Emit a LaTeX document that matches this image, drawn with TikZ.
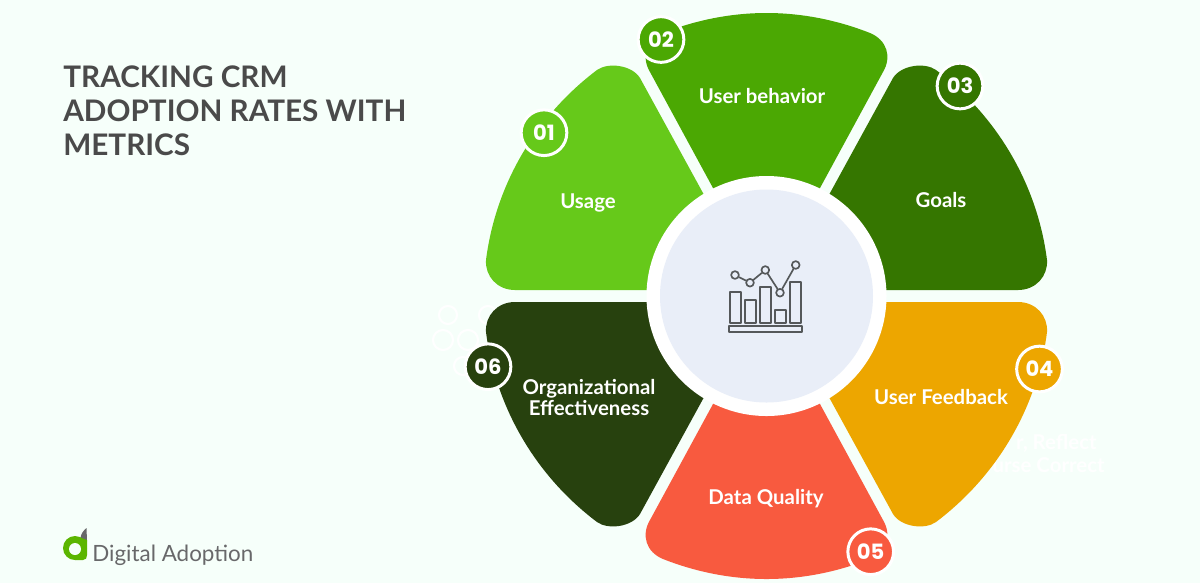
\documentclass[tikz,border=0pt]{standalone}
\usepackage{fontspec}
\setmainfont{Lato}
\newfontfamily\numfont{Poppins}
\definecolor{pagebg}{HTML}{F6FFFA}
\definecolor{usagegreen}{HTML}{66C91A}
\definecolor{behavgreen}{HTML}{4BA803}
\definecolor{goalsgreen}{HTML}{357600}
\definecolor{orgdark}{HTML}{27410E}
\definecolor{datared}{HTML}{F85A3F}
\definecolor{feedamber}{HTML}{EDA600}
\definecolor{hubfill}{HTML}{E9EEF8}
\definecolor{titlegrey}{HTML}{4A4A4A}
\definecolor{icongrey}{HTML}{55585A}
\definecolor{logogrey}{HTML}{68686A}
\definecolor{logogreen}{HTML}{5BB500}
\tikzset{
  seglabel/.style={text=white,font=\fontsize{11.6pt}{12.4pt}\selectfont\bfseries,align=center,inner sep=0pt,anchor=base},
  badge/.style={circle,draw=white,line width=1.7pt,minimum size=26pt,inner sep=0pt,text=white,font=\numfont\fontsize{12pt}{13pt}\selectfont\bfseries},
  chartdot/.style={circle,draw=icongrey,fill=hubfill,line width=0.95pt,minimum size=4.4pt,inner sep=0pt},
  chartbar/.style={draw=icongrey,line width=0.95pt,fill=hubfill},
  ghost/.style={draw=white,line width=1.2pt}
}
\begin{document}
\begin{tikzpicture}[line cap=round,line join=round,x=0.02cm,y=-0.02cm]
\clip(0,0) rectangle (1200,583);
\fill [color=pagebg] (0,0) rectangle (1200,583);
% faint leftovers behind the segments
\draw [ghost] (448,315) circle (9);
\draw [ghost] (488,315) circle (9);
\draw [ghost] (443,340) circle (10);
\draw [ghost] (468,340) circle (10);
\draw [ghost] (463,366) circle (9);
\node [seglabel,anchor=base east] (ghostone) at (1097,449) {r, Reflect};
\node [seglabel,anchor=base east] (ghosttwo) at (1105,472) {urse Correct};
% segments
\fill [color=usagegreen] (766.5,290) -- (515,290) .. controls (497,290) and (485,276) .. (486,260) .. controls (495.7,184.2) and (536,116) .. (597,70) .. controls (608,62) and (632,65) .. (640,78) -- (703,193) -- cycle;
\fill [color=behavgreen] (820,188) -- (883,72) .. controls (892,57) and (887,40) .. (870,33) .. controls (837,20) and (802,13) .. (766.5,13) .. controls (731,13) and (696,20) .. (663,33) .. controls (646,40) and (641,57) .. (650,72) -- (713,188) -- (766.5,296) -- cycle;
\fill [color=goalsgreen] (766.5,290) -- (1018,290) .. controls (1036,290) and (1048,276) .. (1047,260) .. controls (1037.3,184.2) and (997,116) .. (936,70) .. controls (925,62) and (901,65) .. (893,78) -- (830,193) -- cycle;
\fill [color=feedamber] (766.5,302) -- (1018,302) .. controls (1036,302) and (1048,316) .. (1047,332) .. controls (1037.3,407.8) and (997,476) .. (936,522) .. controls (925,530) and (901,527) .. (893,514) -- (830,399) -- cycle;
\fill [color=datared] (820,404) -- (883,520) .. controls (892,535) and (887,552) .. (870,559) .. controls (837,572) and (802,579) .. (766.5,579) .. controls (731,579) and (696,572) .. (663,559) .. controls (646,552) and (641,535) .. (650,520) -- (713,404) -- (766.5,296) -- cycle;
\fill [color=orgdark] (766.5,302) -- (515,302) .. controls (497,302) and (485,316) .. (486,332) .. controls (495.7,407.8) and (536,476) .. (597,522) .. controls (608,530) and (632,527) .. (640,514) -- (703,399) -- cycle;
% hub
\fill [color=white] (766.5,296) circle (120);
\fill [color=hubfill] (766.5,296) circle (106.5);
% chart icon
\draw [chartbar] (730,292.3) rectangle (740.7,322.7);
\draw [chartbar] (745,300) rectangle (756,322.7);
\draw [chartbar] (760,287.3) rectangle (771,322.7);
\draw [chartbar] (775,310) rectangle (786,322.7);
\draw [chartbar] (790,282.3) rectangle (801,322.7);
\draw [chartbar] (729,326) rectangle (802.3,332);
\node [chartdot] (dota) at (735,275) {};
\node [chartdot] (dotb) at (750,282.7) {};
\node [chartdot] (dotc) at (765.3,270) {};
\node [chartdot] (dotd) at (780,292.7) {};
\node [chartdot] (dote) at (795.7,265) {};
\draw [color=icongrey,line width=0.95pt] (dota) -- (dotb);
\draw [color=icongrey,line width=0.95pt] (dotb) -- (dotc);
\draw [color=icongrey,line width=0.95pt] (dotc) -- (dotd);
\draw [color=icongrey,line width=0.95pt] (dotd) -- (dote);
% segment labels
\node [seglabel] (usage) at (588,208) {Usage};
\node [seglabel] (behavior) at (762,103) {User behavior};
\node [seglabel] (goals) at (941,207.5) {Goals};
\node [seglabel] (feedback) at (941,404.5) {User Feedback};
\node [seglabel] (dataq) at (766,504.5) {Data Quality};
\node [seglabel,anchor=center] (orgeff) at (589,397.5) {Organizational\\Effectiveness};
% number badges
\node [badge,fill=usagegreen] (numa) at (544,132.7) {01};
\node [badge,fill=behavgreen] (numb) at (661,39.5) {02};
\node [badge,fill=goalsgreen] (numc) at (960,86) {03};
\node [badge,fill=feedamber] (numd) at (1039.5,369) {04};
\node [badge,fill=datared] (nume) at (870.7,551.7) {05};
\node [badge,fill=orgdark] (numf) at (488,366.7) {06};
% title
\node [anchor=north west,inner sep=0pt,align=left,text=titlegrey,font=\fontsize{16.9pt}{19.6pt}\selectfont\bfseries] (title) at (63,65) {TRACKING CRM\\ADOPTION RATES WITH\\METRICS};
% logo
\fill [color=logogrey] (86.5,528) -- (87,541) -- (80.5,538) .. controls (81,534) and (83,531) .. (86.5,528) -- cycle;
\fill [color=logogreen] (75,548) circle (12);
\fill [color=logogreen] (79,537) -- (87,540) -- (87,555) .. controls (87,558) and (86,560) .. (83,560) -- (75,560) -- cycle;
\fill [color=pagebg] (75,549) circle (6);
\node [anchor=base west,inner sep=0pt,text=logogrey,font=\fontsize{12.75pt}{14pt}\selectfont] (logotext) at (92,561) {Digital Adoption};
\end{tikzpicture}
\end{document}
